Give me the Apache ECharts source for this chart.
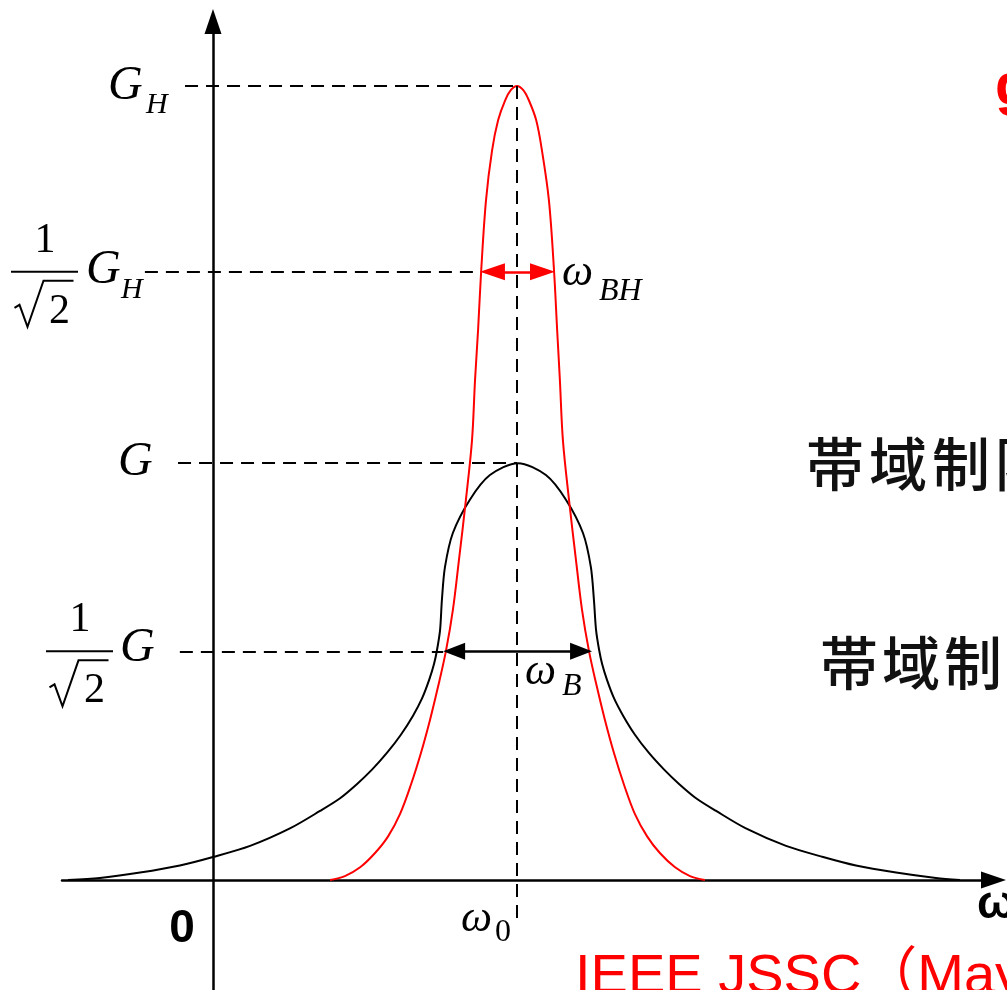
<!DOCTYPE html>
<html><head><meta charset="utf-8">
<script src="https://cdn.jsdelivr.net/npm/echarts@6/dist/echarts.min.js"></script>
<style>html,body{margin:0;padding:0;background:#fff}#c{width:1007px;height:990px}</style>
</head><body><div id="c"></div>
<script>
// ---- data (ω normalised to ω0 = 1, gain normalised to G_H = 1) ----
const omegaBlack = [-0.477,-0.372,-0.240,-0.109,0.000,0.122,0.253,0.352,0.418,0.474,0.523,0.572,0.618,0.658,0.688,0.711,0.727,0.737,0.747,0.753,0.763,0.789,0.845,0.911,1.003,1.095,1.161,1.217,1.243,1.253,1.260,1.270,1.280,1.296,1.319,1.349,1.388,1.434,1.484,1.533,1.589,1.655,1.753,1.885,2.007,2.115,2.247,2.378,2.457];
const gainBlack  = [0.000,0.0025,0.0094,0.0183,0.029,0.043,0.065,0.087,0.103,0.121,0.139,0.160,0.183,0.207,0.229,0.252,0.272,0.290,0.315,0.353,0.394,0.437,0.479,0.510,0.525,0.510,0.479,0.437,0.394,0.353,0.315,0.290,0.272,0.252,0.229,0.207,0.183,0.160,0.139,0.121,0.103,0.087,0.065,0.043,0.029,0.0183,0.0094,0.0025,0.000];
const omegaRed = [0.385,0.434,0.484,0.533,0.576,0.615,0.651,0.684,0.714,0.740,0.766,0.789,0.809,0.832,0.852,0.862,0.872,0.882,0.898,0.918,0.938,0.961,0.980,1.000,1.020,1.039,1.063,1.082,1.105,1.122,1.132,1.141,1.151,1.171,1.194,1.214,1.237,1.263,1.289,1.319,1.352,1.388,1.428,1.470,1.520,1.569,1.618];
const gainRed  = [0.000,0.005,0.016,0.034,0.055,0.083,0.120,0.160,0.202,0.243,0.288,0.340,0.403,0.479,0.554,0.630,0.693,0.766,0.856,0.919,0.957,0.982,0.995,1.000,0.995,0.982,0.957,0.919,0.856,0.766,0.693,0.630,0.554,0.479,0.403,0.340,0.288,0.243,0.202,0.160,0.120,0.083,0.055,0.034,0.016,0.005,0.000];
const levelNames  = ['G_H', 'G_H/√2', 'G', 'G/√2'];
const levelValues = [1.000, 0.766, 0.525, 0.288];
const guideStart  = [-0.092, -0.224, -0.115, -0.109];
const guideEnd    = [1.000, 0.878, 1.000, 0.757];
const omega0 = 1.0;
const omega0GuideBottom = -0.050;
const bandHigh = [0.878, 1.125];   // ω_BH arrow tips
const bandLow  = [0.757, 1.247];   // ω_B arrow tips
const xRange = [-0.4967, 2.5674];
const yRange = [-0.1385, 1.0812];
const jpLabel = ['帯', '域', '制', '限'];

const PX_PER_OMEGA = 304;
const pair = (xs, ys) => xs.map((x, i) => [x, ys[i]]);

const chart = echarts.init(document.getElementById('c'), null, {renderer: 'canvas'});
const axisCommon = {
  type: 'value',
  axisLine: {show: true, onZero: true, symbol: ['none', 'triangle'], symbolSize: [17, 25],
             lineStyle: {color: '#000', width: 2.5}},
  axisTick: {show: false}, axisLabel: {show: false}, splitLine: {show: false}
};
const arrowLine = (tips, y, half) => [[{coord: [tips[0] + half / PX_PER_OMEGA, y]}, {coord: [tips[1] - half / PX_PER_OMEGA, y]}]];
const guides = levelValues.map((v, i) => [{coord: [guideStart[i], v]}, {coord: [guideEnd[i], v]}]);
guides.push([{coord: [omega0, levelValues[0]]}, {coord: [omega0, omega0GuideBottom]}]);

chart.setOption({
  animation: false,
  backgroundColor: '#fff',
  grid: {left: 62, right: 13.5, top: 21.5, bottom: 0, containLabel: false, outerBoundsMode: 'none'},
  xAxis: Object.assign({min: xRange[0], max: xRange[1]}, axisCommon),
  yAxis: Object.assign({min: yRange[0], max: yRange[1]}, axisCommon),
  series: [
    {type: 'line', name: 'guides', data: [], silent: true,
     markLine: {silent: true, symbol: ['none', 'none'], label: {show: false},
                lineStyle: {color: '#000', width: 2, type: [13, 8]}, emphasis: {disabled: true}, data: guides}},
    {type: 'line', name: 'black', data: pair(omegaBlack, gainBlack), showSymbol: false, symbol: 'none', smooth: 0.3,
     lineStyle: {color: '#000', width: 2}, z: 3,
     markLine: {silent: true, symbol: ['triangle', 'triangle'], symbolSize: [17, 22], label: {show: false},
                lineStyle: {color: '#000', width: 2.5, type: 'solid'}, emphasis: {disabled: true},
                data: arrowLine(bandLow, levelValues[3], 11)}},
    {type: 'line', name: 'red', data: pair(omegaRed, gainRed), showSymbol: false, symbol: 'none', smooth: 0.35,
     lineStyle: {color: '#ff0000', width: 2}, z: 4,
     markLine: {silent: true, symbol: ['triangle', 'triangle'], symbolSize: [17, 25], label: {show: false},
                lineStyle: {color: '#ff0000', width: 2.5, type: 'solid'}, emphasis: {disabled: true},
                data: arrowLine(bandHigh, levelValues[1], 12.5)}}
  ]
});

const px = (x, y) => chart.convertToPixel({gridIndex: 0}, [x, y]);
const SERIF = '"Liberation Serif", "Times New Roman", serif';
const SANS = '"Liberation Sans", Arial, "Noto Sans CJK JP", sans-serif';
const JP = '500 58px "Noto Sans CJK JP"';
const g = [];
function txt(x, y, text, font, fill, align, va) {
  g.push({type: 'text', x: x, y: y, silent: true, z: 10,
          style: {text: text, font: font, fill: fill || '#000', align: align || 'left', verticalAlign: va || 'middle'}});
}
function frac(cx, barY) {
  g.push({type: 'line', silent: true, z: 10, shape: {x1: cx - 33.5, y1: barY, x2: cx + 33.5, y2: barY}, style: {stroke: '#000', lineWidth: 2}});
  txt(cx + 0.5, barY - 31, '1', '42px ' + SERIF, '#000', 'center');
  g.push({type: 'polyline', silent: true, z: 10,
          shape: {points: [[cx - 30, barY + 36], [cx - 25, barY + 33], [cx - 17, barY + 55], [cx - 1, barY + 9], [cx + 29, barY + 9]]},
          style: {stroke: '#000', lineWidth: 2, fill: null}});
  txt(cx + 15, barY + 40, '2', '42px ' + SERIF, '#000', 'center');
}
function spaced(x, y, chars, step, font, fill) {
  chars.forEach((c, i) => txt(x + i * step, y, c, font, fill));
}
const yGH = px(0, levelValues[0])[1];
const yGH2 = px(0, levelValues[1])[1];
const yG = px(0, levelValues[2])[1];
const yG2 = px(0, levelValues[3])[1];
const yBase = px(0, 0)[1];
const xO = px(omega0, 0)[0];
const xY = px(0, 0)[0];

// G_H
txt(108, yGH, 'G', 'italic 48px ' + SERIF);
txt(146, yGH + 19, 'H', 'italic 30px ' + SERIF);
// 1/√2 G_H
frac(44.5, yGH2);
txt(86, yGH2 - 1, 'G', 'italic 48px ' + SERIF);
txt(121, yGH2 + 18, 'H', 'italic 30px ' + SERIF);
// G
txt(118, yG - 1, 'G', 'italic 48px ' + SERIF);
// 1/√2 G
frac(79.5, yG2);
txt(120, yG2 - 3, 'G', 'italic 48px ' + SERIF);
// ω_BH
txt(px(bandHigh[1], 0)[0] + 7, yGH2 + 2, 'ω', 'italic 44px ' + SERIF);
txt(px(bandHigh[1], 0)[0] + 44, yGH2 + 20, 'BH', 'italic 32px ' + SERIF);
// ω_B
txt(xO + 8, yG2 + 21, 'ω', 'italic 44px ' + SERIF);
txt(xO + 45, yG2 + 35, 'B', 'italic 32px ' + SERIF);
// ω_0
txt(xO - 56, yBase + 39, 'ω', 'italic 44px ' + SERIF);
txt(xO - 22, yBase + 53, '0', '32px ' + SERIF);
// origin and axis name
txt(xY - 31, yBase + 49, '0', 'bold 46px ' + SANS, '#000', 'center');
txt(977, yBase + 25, 'ω', 'bold 46px ' + SANS);
// Japanese annotations
spaced(806, yG + 1, jpLabel, 63, JP, '#111');
spaced(820, yG2 + 12, jpLabel, 62, JP, '#111');
// red annotations
txt(995, yGH + 2, 'g', 'bold 58px ' + SANS, '#ff0000');
txt(575, 950, 'IEEE JSSC（May 2002）', '56px ' + SANS, '#ff0000', 'left', 'top');

chart.setOption({graphic: {elements: g}});
</script>
</body></html>
